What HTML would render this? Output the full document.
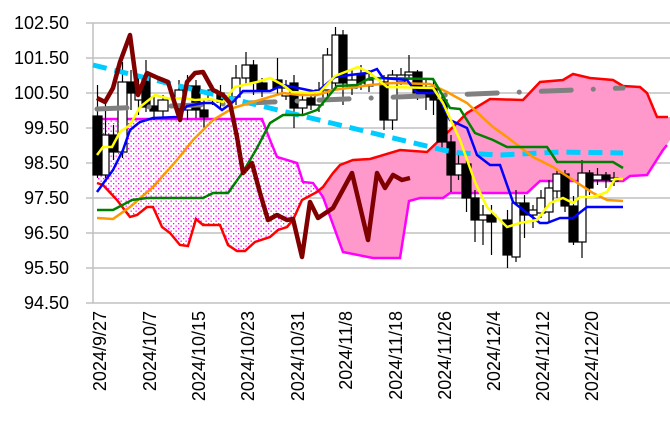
<!DOCTYPE html>
<html><head><meta charset="utf-8"><style>
html,body{margin:0;padding:0;background:#fff}
svg{display:block;font-family:"Liberation Sans",sans-serif}
</style></head><body>
<svg width="670" height="440" viewBox="0 0 670 440" xmlns="http://www.w3.org/2000/svg">
<defs>
<pattern id="dots" width="5" height="5" patternUnits="userSpaceOnUse">
<rect width="5" height="5" fill="#fff"/>
<rect x="0.5" y="0.5" width="1.3" height="1.3" fill="#ff00ff"/>
<rect x="3" y="3" width="1.3" height="1.3" fill="#ff00ff"/>
</pattern>
<clipPath id="cl"><rect x="0" y="0" width="316" height="440"/></clipPath>
<clipPath id="cr"><rect x="316" y="0" width="400" height="440"/></clipPath>
</defs>
<g stroke="#c0c0c0" stroke-width="1.5">
<line x1="86" y1="23" x2="670" y2="23"/><line x1="86" y1="58" x2="670" y2="58"/>
<line x1="86" y1="93" x2="670" y2="93"/><line x1="86" y1="128" x2="670" y2="128"/>
<line x1="86" y1="163" x2="670" y2="163"/><line x1="86" y1="198" x2="670" y2="198"/>
<line x1="86" y1="233" x2="670" y2="233"/><line x1="86" y1="268" x2="670" y2="268"/>
<line x1="86" y1="303" x2="670" y2="303"/><line x1="93" y1="23" x2="93" y2="303"/>
</g>
<g font-size="18" fill="#000" text-anchor="end">
<text x="69" y="29">102.50</text><text x="69" y="64">101.50</text><text x="69" y="99">100.50</text>
<text x="69" y="134">99.50</text><text x="69" y="169">98.50</text><text x="69" y="204">97.50</text>
<text x="69" y="239">96.50</text><text x="69" y="274">95.50</text><text x="69" y="309">94.50</text>
</g>
<g font-size="18" fill="#000" text-anchor="end">
<text transform="translate(106,311) rotate(-90)">2024/9/27</text>
<text transform="translate(156,311) rotate(-90)">2024/10/7</text>
<text transform="translate(205,311) rotate(-90)">2024/10/15</text>
<text transform="translate(254,311) rotate(-90)">2024/10/23</text>
<text transform="translate(304,311) rotate(-90)">2024/10/31</text>
<text transform="translate(352,311) rotate(-90)">2024/11/8</text>
<text transform="translate(402,311) rotate(-90)">2024/11/18</text>
<text transform="translate(451,311) rotate(-90)">2024/11/26</text>
<text transform="translate(500,311) rotate(-90)">2024/12/4</text>
<text transform="translate(549,311) rotate(-90)">2024/12/12</text>
<text transform="translate(598,311) rotate(-90)">2024/12/20</text>
</g>
<g>
<polygon clip-path="url(#cl)" fill="url(#dots)" points="97,119 262,119 270,140 277,157 297,163 303,182 313,183 323,197 343,252 373,258 400,258 409,201 420,198 443,198 450,193 527,193 540,181 623,181 630,176 647,175 663,150 670,140 670,117 668,117 657,117 647,93 640,87 623,86 613,80 590,78 573,74 563,80 540,82 523,100 490,99 467,113 447,133 427,152 400,150 370,159 353,160 340,165 333,173 323,187 317,192 302,200 293,220 287,227 278,230 270,237 255,242 245,251 237,251 228,245 220,225 203,225 196,219 188,246 180,245 170,233 162,227 153,207 147,207 137,215 130,217 117,200 103,185 97,183"/>
<polygon clip-path="url(#cr)" fill="#ff99cc" points="97,119 262,119 270,140 277,157 297,163 303,182 313,183 323,197 343,252 373,258 400,258 409,201 420,198 443,198 450,193 527,193 540,181 623,181 630,176 647,175 663,150 670,140 670,117 668,117 657,117 647,93 640,87 623,86 613,80 590,78 573,74 563,80 540,82 523,100 490,99 467,113 447,133 427,152 400,150 370,159 353,160 340,165 333,173 323,187 317,192 302,200 293,220 287,227 278,230 270,237 255,242 245,251 237,251 228,245 220,225 203,225 196,219 188,246 180,245 170,233 162,227 153,207 147,207 137,215 130,217 117,200 103,185 97,183"/>
<polyline fill="none" stroke="#ff00ff" stroke-width="2.5" points="97,119 262,119 270,140 277,157 297,163 303,182 313,183 323,197 343,252 373,258 400,258 409,201 420,198 443,198 450,193 527,193 540,181 623,181 630,176 647,175 663,150 667,145"/>
<polyline fill="none" stroke="#ff0000" stroke-width="2.5" points="97,183 103,185 117,200 130,217 137,215 147,207 153,207 162,227 170,233 180,245 188,246 196,219 203,225 220,225 228,245 237,251 245,251 255,242 270,237 278,230 287,227 293,220 302,200 317,192 323,187 333,173 340,165 353,160 370,159 400,150 427,152 447,133 467,113 490,99 523,100 540,82 563,80 573,74 590,78 613,80 623,86 640,87 647,93 657,117 668,117"/>
</g>
<g id="cd" stroke="#000" stroke-width="1.2"></g>
<line x1="97" y1="109" x2="623" y2="88" stroke="#808080" stroke-width="5" stroke-linecap="round" stroke-dasharray="30 22 0.1 22"/>
<polyline fill="none" stroke="#00ccff" stroke-width="5" stroke-dasharray="14 8" points="93,65 360,130 443,150 460,153 500,155 560,152 623,153"/>
<polyline fill="none" stroke="#ff9900" stroke-width="2.5" points="97,218 113,219 130,207 153,187 177,160 193,140 213,120 233,108 253,102 283,93 300,95 317,95 333,90 370,85 393,83 430,84 447,92 467,103 493,127 507,137 533,157 553,167 573,180 593,193 607,200 623,201"/>
<polyline fill="none" stroke="#008000" stroke-width="2.5" points="97,210 113,210 132,200 147,198 203,198 213,193 228,193 243,172 257,148 270,123 283,115 303,115 317,110 327,98 337,86 357,85 370,78 433,79 450,108 460,109 475,133 493,140 507,147 547,147 557,162 613,162 623,168"/>
<polyline fill="none" stroke="#0000ff" stroke-width="2.5" points="97,192 113,170 123,150 130,130 140,122 153,118 177,117 187,106 203,103 213,103 222,110 233,102 243,91 270,91 283,85 303,89 317,92 335,77 350,75 367,73 377,69 383,78 407,80 417,93 437,93 450,120 467,128 477,155 490,165 500,165 513,202 540,223 547,223 560,218 573,218 587,207 623,207"/>
<polyline fill="none" stroke="#ffff00" stroke-width="2.5" points="97,155 103,147 112,147 120,132 130,125 140,107 155,95 170,99 183,98 195,100 210,99 223,102 235,87 257,82 270,78 283,85 292,92 310,93 320,92 335,76 358,67 370,73 387,87 433,88 443,103 460,140 475,182 487,207 507,227 520,223 537,220 550,203 563,198 573,203 580,197 593,197 607,192 615,179 623,179"/>
<polyline fill="none" stroke="#800000" stroke-width="4.5" stroke-linejoin="round" points="97,98 105,102 113,88 120,62 130,35 138,95 147,73 158,78 168,82 180,120 187,82 195,73 203,72 213,90 223,95 230,103 237,137 243,173 252,163 260,193 268,220 277,215 287,220 293,219 302,257 310,202 318,218 333,208 352,173 368,240 377,173 385,188 393,175 402,180 410,178"/>
</svg>
<script>
var c=[[93,102,116,175,1,85,178],[102,109,135,175,0,100,178],[109,118,135,152,1,125,160],[118,127,82,152,0,62,158],[127,135,82,93,1,70,110],[135,142,85,100,0,78,115],[142,150,77,107,1,60,112],[150,158,106,111,1,95,120],[158,168,100,111,0,95,118],[175,183,90,108,0,80,115],[183,192,86,110,0,75,120],[192,200,86,110,1,80,118],[200,208,110,117,1,100,128],[208,217,90,100,0,85,105],[217,224,93,102,1,85,110],[232,240,78,97,0,65,105],[242,250,65,78,0,52,85],[250,257,65,83,1,60,95],[257,267,83,90,1,78,97],[273,282,80,88,1,58,95],[282,290,88,96,0,80,100],[290,298,83,108,1,75,128],[298,307,100,108,0,92,115],[307,315,98,105,1,90,110],[315,323,90,105,0,82,112],[323,332,55,90,0,48,100],[332,339,35,83,0,27,88],[339,347,35,83,1,30,105],[347,357,80,88,0,70,95],[357,365,75,83,1,65,90],[365,373,80,86,0,70,92],[380,388,82,120,1,75,130],[388,397,75,120,0,70,130],[397,405,75,82,0,68,85],[405,413,72,75,0,55,80],[413,422,72,93,1,70,100],[422,430,87,97,1,80,110],[430,437,87,100,1,80,115],[437,447,100,142,1,95,150],[447,455,142,175,1,135,192],[455,462,164,175,0,155,180],[462,471,164,198,1,160,212],[471,479,198,220,1,190,242],[479,487,215,220,0,205,245],[487,496,215,222,1,205,255],[503,512,220,255,1,210,268],[512,520,203,257,0,190,262],[520,529,203,215,1,195,238],[529,537,210,215,0,205,228],[537,545,198,213,0,190,218],[545,553,188,212,0,180,222],[553,561,174,191,0,170,198],[561,569,174,206,1,170,212],[569,578,206,242,1,196,245],[578,586,173,242,0,160,258],[586,593,173,188,1,170,195],[593,602,175,180,0,168,185],[602,610,175,180,1,172,188],[610,618,178,181,0,172,186]];
var g=document.getElementById('cd'),s='';
c.forEach(function(d){var m=(d[0]+d[1])/2;s+='<line x1="'+m+'" y1="'+d[5]+'" x2="'+m+'" y2="'+d[6]+'"/><rect x="'+d[0]+'" y="'+d[2]+'" width="'+(d[1]-d[0])+'" height="'+Math.max(1,d[3]-d[2])+'" fill="'+(d[4]?'#000':'#fff')+'"/>';});
g.innerHTML=s;
</script>
</body></html>
